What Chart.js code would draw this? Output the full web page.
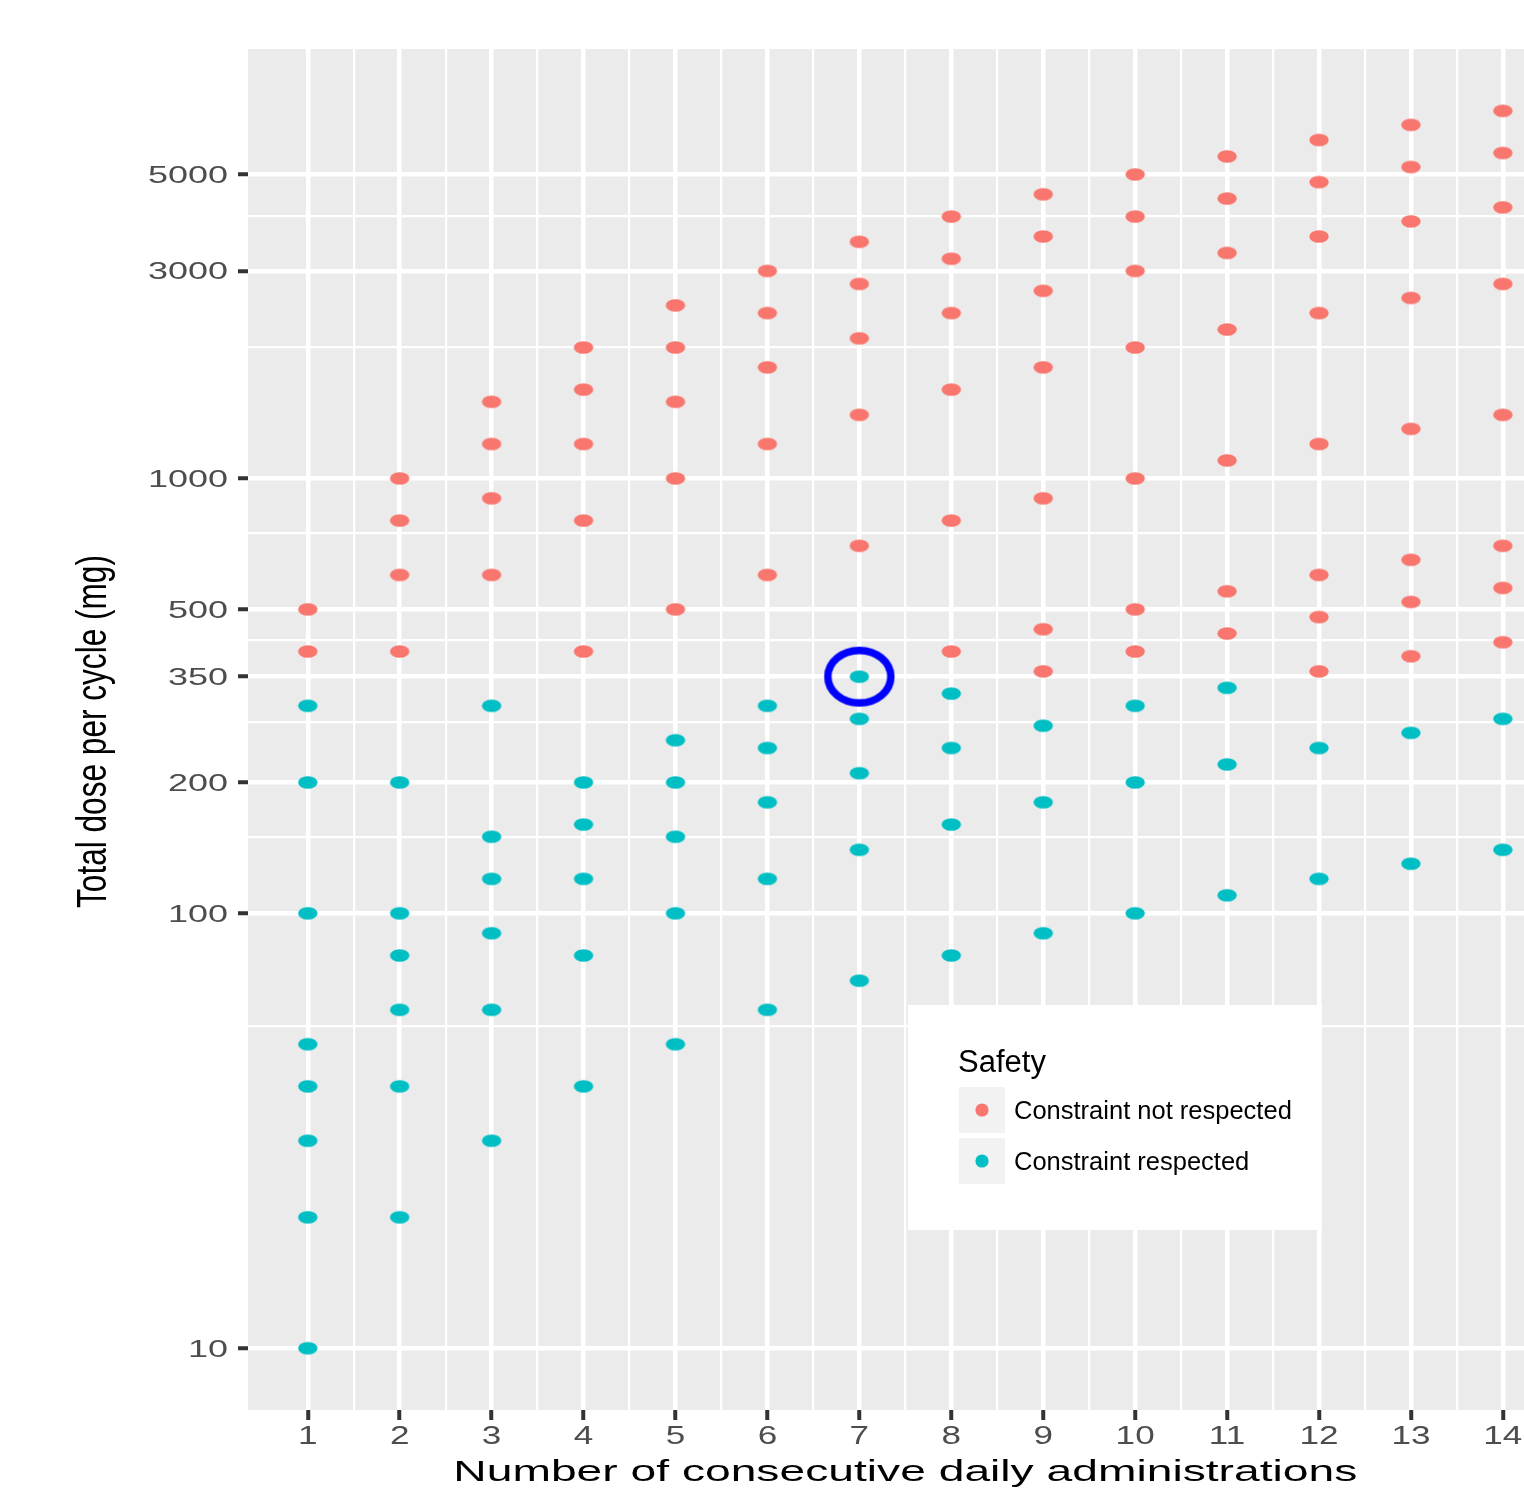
<!DOCTYPE html>
<html>
<head>
<meta charset="utf-8">
<title>Total dose per cycle</title>
<script src="https://cdn.jsdelivr.net/npm/chart.js@4.4.0/dist/chart.umd.min.js"></script>
<style>
    body { margin: 0; background: #ffffff; }
    canvas { display: block; }
</style>
</head>
<body>
<canvas id="doseChart" width="1524" height="1493"></canvas>
<script>
// days on the x axis
const days = [1, 2, 3, 4, 5, 6, 7, 8, 9, 10, 11, 12, 13, 14];

// total dose per cycle (mg), one list per day
const notRespectedDoses = [
    [400, 500],
    [400, 600, 800, 1000],
    [600, 900, 1200, 1500],
    [400, 800, 1200, 1600, 2000],
    [500, 1000, 1500, 2000, 2500],
    [600, 1200, 1800, 2400, 3000],
    [700, 1400, 2100, 2800, 3500],
    [400, 800, 1600, 2400, 3200, 4000],
    [360, 450, 900, 1800, 2700, 3600, 4500],
    [400, 500, 1000, 2000, 3000, 4000, 5000],
    [440, 550, 1100, 2200, 3300, 4400, 5500],
    [360, 480, 600, 1200, 2400, 3600, 4800, 6000],
    [390, 520, 650, 1300, 2600, 3900, 5200, 6500],
    [420, 560, 700, 1400, 2800, 4200, 5600, 7000]
];
const respectedDoses = [
    [10, 20, 30, 40, 50, 100, 200, 300],
    [20, 40, 60, 80, 100, 200],
    [30, 60, 90, 120, 150, 300],
    [40, 80, 120, 160, 200],
    [50, 100, 150, 200, 250],
    [60, 120, 180, 240, 300],
    [70, 140, 210, 280, 350],
    [80, 160, 240, 320],
    [90, 180, 270],
    [100, 200, 300],
    [110, 220, 330],
    [120, 240],
    [130, 260],
    [140, 280]
];

// circled point
const highlightDay = 7;
const highlightDose = 350;

const yTicks = [10, 100, 200, 350, 500, 1000, 3000, 5000];
const yMinorTicks = [55, 150, 275, 425, 750, 2000, 4000];

const seriesLabels = ["Constraint not respected", "Constraint respected"];
const legendTitle = "Safety";
const xTitle = "Number of consecutive daily administrations";
const yTitle = "Total dose per cycle (mg)";

const COLORS = {
    red: "#F8766D",
    cyan: "#00BFC4",
    panel: "#EBEBEB",
    tickText: "#4D4D4D",
    tickMark: "#333333",
    ring: "#0000FF",
};

document.addEventListener("DOMContentLoaded", function () {
    const canvas = document.getElementById("doseChart");
    const ctx = canvas.getContext("2d");

    // flattened ellipse markers, the picture is wider than tall
    function makeEllipse(color, rx, ry, stroke) {
        const c = document.createElement("canvas");
        const pad = stroke ? stroke : 1;
        c.width = Math.ceil(rx * 2 + pad * 2);
        c.height = Math.ceil(ry * 2 + pad * 2);
        const g = c.getContext("2d");
        g.beginPath();
        g.ellipse(c.width / 2, c.height / 2, rx, ry, 0, 0, Math.PI * 2);
        if (stroke) {
            g.lineWidth = stroke;
            g.strokeStyle = color;
            g.stroke();
        } else {
            g.fillStyle = color;
            g.fill();
        }
        return c;
    }

    function toPoints(doseLists) {
        const pts = [];
        doseLists.forEach((doses, i) => {
            doses.forEach((d) => pts.push({x: days[i], y: d}));
        });
        return pts;
    }

    function stretchText(text, x, y, sx, align, font, color) {
        ctx.save();
        ctx.font = font;
        ctx.fillStyle = color;
        ctx.textAlign = align;
        ctx.textBaseline = "alphabetic";
        ctx.translate(x, y);
        ctx.scale(sx, 1);
        ctx.fillText(text, 0, 0);
        ctx.restore();
    }

    const panelBackground = {
        id: "panelBackground",
        beforeDraw(chart) {
            const a = chart.chartArea;
            ctx.save();
            ctx.fillStyle = COLORS.panel;
            ctx.fillRect(a.left, a.top, a.right - a.left, a.bottom - a.top);
            ctx.restore();
        },
    };

    // tick labels and axis titles, stretched like the original export
    const axisText = {
        id: "axisText",
        afterDraw(chart) {
            const xs = chart.scales.x;
            const ys = chart.scales.y;
            yTicks.forEach((v) => {
                stretchText(String(v), 228, ys.getPixelForValue(v) + 8.5, 1.5, "right",
                    '24px "Liberation Sans", Arial, sans-serif', COLORS.tickText);
            });
            days.forEach((d) => {
                stretchText(String(d), xs.getPixelForValue(d), 1444, 1.35, "center",
                    '26px "Liberation Sans", Arial, sans-serif', COLORS.tickText);
            });
            stretchText(xTitle, xs.getPixelForValue(7.5), 1481, 1.54, "center",
                '30px "Liberation Sans", Arial, sans-serif', "#000000");

            ctx.save();
            ctx.translate(106, (ys.top + ys.bottom) / 2 + 2);
            ctx.rotate(-Math.PI / 2);
            ctx.scale(1, 1.35);
            ctx.font = '31.6px "Liberation Sans", Arial, sans-serif';
            ctx.fillStyle = "#000000";
            ctx.textAlign = "center";
            ctx.textBaseline = "alphabetic";
            ctx.fillText(yTitle, 0, 0);
            ctx.restore();
        },
    };

    // ggplot style legend sitting inside the panel
    const safetyLegend = {
        id: "safetyLegend",
        afterDraw() {
            ctx.save();
            ctx.fillStyle = "#ffffff";
            ctx.fillRect(908, 1005, 414, 225);

            ctx.fillStyle = "#000000";
            ctx.font = '31px "Liberation Sans", Arial, sans-serif';
            ctx.textAlign = "left";
            ctx.fillText(legendTitle, 958, 1072);

            const keyColors = [COLORS.red, COLORS.cyan];
            seriesLabels.forEach((label, i) => {
                const top = 1087 + i * 51;
                ctx.fillStyle = "#F2F2F2";
                ctx.fillRect(959, top, 46, 46);
                ctx.fillStyle = keyColors[i];
                ctx.beginPath();
                ctx.arc(982, top + 23, 6.6, 0, Math.PI * 2);
                ctx.fill();
                ctx.fillStyle = "#000000";
                ctx.font = '25.5px "Liberation Sans", Arial, sans-serif';
                ctx.fillText(label, 1014, top + 32);
            });
            ctx.restore();
        },
    };

    const xGrid = days.map((d) => ({value: d}));
    for (let i = 0; i < days.length - 1; i++) {
        xGrid.push({value: (days[i] + days[i + 1]) / 2, minor: true});
    }
    const yGrid = yTicks.map((v) => ({value: v}))
        .concat(yMinorTicks.map((v) => ({value: v, minor: true})));

    const gridStyle = {
        color: "#ffffff",
        lineWidth: (c) => (c.tick && c.tick.minor ? 2.2 : 4.5),
        drawTicks: true,
        tickLength: 10,
        tickWidth: 4,
        tickColor: (c) => (c.tick && c.tick.minor ? "rgba(0,0,0,0)" : COLORS.tickMark),
    };

    const chart = new Chart(ctx, {
        type: "scatter",
        data: {
            datasets: [
                {
                    label: seriesLabels[0],
                    data: toPoints(notRespectedDoses),
                    pointStyle: makeEllipse(COLORS.red, 9.7, 6.3),
                    pointRadius: 8,
                },
                {
                    label: seriesLabels[1],
                    data: toPoints(respectedDoses),
                    pointStyle: makeEllipse(COLORS.cyan, 9.7, 6.3),
                    pointRadius: 8,
                },
                {
                    label: "highlight",
                    data: [{x: highlightDay, y: highlightDose}],
                    pointStyle: makeEllipse(COLORS.ring, 31.5, 26.3, 7.5),
                    pointRadius: 30,
                },
            ],
        },
        options: {
            responsive: false,
            animation: false,
            events: [],
            layout: {
                autoPadding: false,
                padding: {top: 49, right: 0, bottom: 0, left: 0},
            },
            plugins: {
                legend: {display: false},
                tooltip: {enabled: false},
            },
            scales: {
                x: {
                    type: "linear",
                    bounds: "data",
                    min: 0.35,
                    max: 14.23,
                    border: {display: false},
                    grid: gridStyle,
                    ticks: {display: false},
                    afterBuildTicks: (scale) => { scale.ticks = xGrid; },
                    afterFit: (scale) => { scale.height = 83; },
                },
                y: {
                    type: "logarithmic",
                    bounds: "data",
                    min: 7.21,
                    max: 9712,
                    border: {display: false},
                    grid: gridStyle,
                    ticks: {display: false},
                    afterBuildTicks: (scale) => { scale.ticks = yGrid; },
                    afterFit: (scale) => { scale.width = 248; },
                },
            },
        },
        plugins: [panelBackground, axisText, safetyLegend],
    });
});
</script>
</body>
</html>
